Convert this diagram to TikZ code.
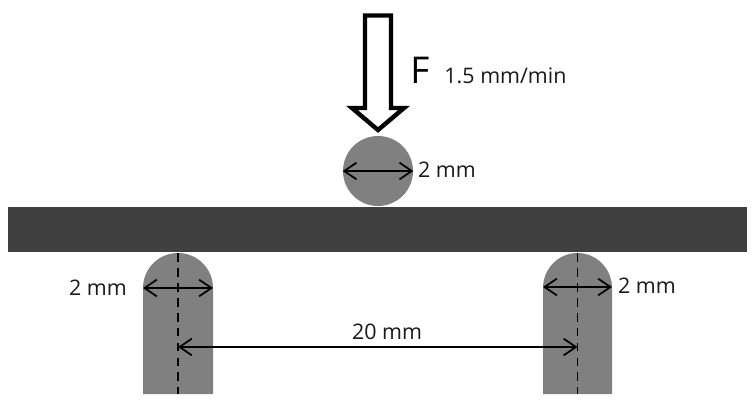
\documentclass[tikz,border=0pt]{standalone}
\usepackage{fontspec}
\setmainfont{Open Sans}
\usetikzlibrary{arrows.meta}
\tikzset{
    gray part/.style={fill=black!50, draw=none},
    dim line/.style={{Straight Barb[length=7pt,width=9.5pt,line width=1pt]}-{Straight Barb[length=7pt,width=9.5pt,line width=1pt]}, line width=1pt},
    dim text/.style={font=\fontsize{12.2}{14}\selectfont, inner sep=0pt, text=black!90}
}
\begin{document}
\begin{tikzpicture}[x=0.02cm, y=-0.02cm]
    \useasboundingbox (0, 0) rectangle (754, 400);

    % Viga
    \node[fill=black!75, minimum width=739*0.02cm, minimum height=45*0.02cm, inner sep=0pt] (beam) at (377.5, 229.5) {};

    % Apoyos
    \fill[gray part] (143, 394) -- (143, 288) arc[start angle=180, end angle=0, x radius=35, y radius=-35] -- (213, 394) -- cycle;
    \fill[gray part] (543, 394) -- (543, 288) arc[start angle=180, end angle=0, x radius=34.5, y radius=-35] -- (612, 394) -- cycle;

    % Rodillo
    \node[circle, gray part, minimum size=70*0.02cm, inner sep=0pt] (ball) at (378, 171) {};

    % Flecha de carga
    \draw[line width=2.5pt, fill=white, miter limit=10] (365, 15.5) -- (391, 15.5) -- (391, 108) -- (404, 108) -- (378, 130) -- (352, 108) -- (365, 108) -- cycle;
    \node[font=\fontsize{21}{24}\selectfont, inner sep=0pt] (force) at (420, 70) {F};
    \node[dim text] (rate) at (505.5, 76) {1.5 mm/min};

    % Ejes de los apoyos
    \coordinate (left top) at (178, 253);
    \coordinate (left bottom) at (178, 394);
    \coordinate (right top) at (577.5, 253);
    \coordinate (right bottom) at (577.5, 394);
    \draw[dashed, line width=1pt, dash pattern=on 5pt off 3.5pt] (left top) -- (left bottom);
    \draw[dashed, line width=1pt, dash pattern=on 5pt off 3.5pt] (right top) -- (right bottom);

    % Cotas
    \coordinate (ball left) at (ball.west);
    \coordinate (ball right) at (ball.east);
    \draw[dim line] (ball left) -- (ball right);
    \node[dim text] (ball size) at (447, 170) {2 mm};

    \coordinate (left a) at (143, 288);
    \coordinate (left b) at (213, 288);
    \draw[dim line] (left a) -- (left b);
    \node[dim text] (left size) at (98, 288) {2 mm};

    \coordinate (right a) at (543, 287);
    \coordinate (right b) at (612, 287);
    \draw[dim line] (right a) -- (right b);
    \node[dim text] (right size) at (647, 286) {2 mm};

    \coordinate (span a) at (178, 347);
    \coordinate (span b) at (577.5, 347);
    \draw[dim line] (span a) -- (span b);
    \node[dim text] (span) at (387, 332) {20 mm};
\end{tikzpicture}
\end{document}
